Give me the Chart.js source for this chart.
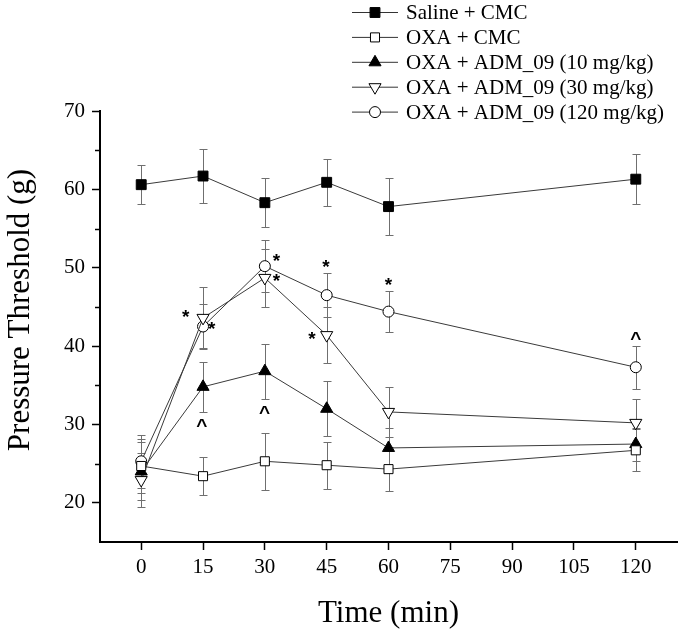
<!DOCTYPE html>
<html><head><meta charset="utf-8">
<script src="https://cdn.jsdelivr.net/npm/chart.js@4.4.1/dist/chart.umd.min.js"></script>
<style>html,body{margin:0;padding:0;background:#fff}canvas{display:block}</style>
</head><body>
<canvas id="c" width="685" height="631"></canvas>
<script>
// ---- data ----
const timePoints = [0, 15, 30, 45, 60, 120];
const seriesLabels = ['Saline + CMC', 'OXA + CMC', 'OXA + ADM_09 (10 mg/kg)', 'OXA + ADM_09 (30 mg/kg)', 'OXA + ADM_09 (120 mg/kg)'];
const salineCmc = [60.6, 61.7, 58.3, 60.9, 57.8, 61.3];
const salineCmcErr = [2.5, 3.4, 3.1, 3.0, 3.6, 3.2];
const oxaCmc = [24.7, 23.4, 25.3, 24.8, 24.3, 26.7];
const oxaCmcErr = [3.5, 2.45, 3.65, 3.0, 2.8, 2.7];
const adm10 = [24.0, 34.8, 36.8, 32.0, 27.0, 27.5];
const adm10Err = [3.7, 3.2, 3.5, 3.5, 2.6, 2.1];
const adm30 = [22.9, 43.6, 48.7, 41.4, 31.6, 30.2];
const adm30Err = [3.4, 3.9, 3.7, 3.6, 3.2, 3.0];
const adm120 = [25.3, 42.5, 50.2, 46.5, 44.4, 37.3];
const adm120Err = [3.4, 2.9, 3.3, 2.8, 2.6, 2.75];
const xTickValues = [0, 15, 30, 45, 60, 75, 90, 105, 120];
const yTickValues = [20, 30, 40, 50, 60, 70];
const yMinorTickValues = [25, 35, 45, 55, 65];
const markSymbols = ['*', '*', '*', '*', '*', '*', '*', '^', '^', '^'];
const markTimes = [10.8, 17.1, 32.8, 32.8, 44.8, 41.4, 60.0, 14.7, 29.9, 120];
const markValues = [44.2, 42.6, 51.25, 48.7, 50.6, 41.4, 48.3, 30.2, 31.9, 41.3];

// ---- styles ----
const seriesValues = [salineCmc, oxaCmc, adm10, adm30, adm120];
const seriesErrors = [salineCmcErr, oxaCmcErr, adm10Err, adm30Err, adm120Err];
const styles = [
  {shape: 'rect', fill: '#000', r: 7, rot: 0},
  {shape: 'rect', fill: '#fff', r: 6.4, rot: 0},
  {shape: 'triangle', fill: '#000', r: 7, rot: 0},
  {shape: 'triangle', fill: '#fff', r: 7, rot: 180},
  {shape: 'circle', fill: '#fff', r: 5.5, rot: 0}
];
const SERIF = '"Liberation Serif", "Times New Roman", serif';

function drawMarker(ctx, st, x, y) {
  ctx.save();
  ctx.fillStyle = st.fill; ctx.strokeStyle = '#000'; ctx.lineWidth = 1;
  ctx.beginPath();
  const r = st.r;
  if (st.shape === 'rect') {
    const s = Math.SQRT1_2 * r;
    ctx.rect(x - s, y - s, 2 * s, 2 * s);
  } else if (st.shape === 'circle') {
    ctx.arc(x, y, r, 0, Math.PI * 2);
  } else {
    let rad = st.rot * Math.PI / 180;
    ctx.moveTo(x + Math.sin(rad) * r, y - Math.cos(rad) * r);
    rad += Math.PI * 2 / 3;
    ctx.lineTo(x + Math.sin(rad) * r, y - Math.cos(rad) * r);
    rad += Math.PI * 2 / 3;
    ctx.lineTo(x + Math.sin(rad) * r, y - Math.cos(rad) * r);
    ctx.closePath();
  }
  ctx.fill(); ctx.stroke();
  ctx.restore();
}

const extras = {
  id: 'extras',
  beforeDatasetsDraw(chart) {
    const {ctx, scales: {x, y}} = chart;
    ctx.save();
    ctx.strokeStyle = '#6f6f6f'; ctx.lineWidth = 1;
    seriesValues.forEach((vals, si) => {
      vals.forEach((v, i) => {
        const e = seriesErrors[si][i];
        const px = Math.round(x.getPixelForValue(timePoints[i])) + 0.5;
        const t = Math.round(y.getPixelForValue(v + e)) + 0.5;
        const b = Math.round(y.getPixelForValue(v - e)) + 0.5;
        ctx.beginPath();
        ctx.moveTo(px, t); ctx.lineTo(px, b);
        ctx.moveTo(px - 4, t); ctx.lineTo(px + 4, t);
        ctx.moveTo(px - 4, b); ctx.lineTo(px + 4, b);
        ctx.stroke();
      });
    });
    ctx.restore();
  },
  afterDraw(chart) {
    const {ctx, scales: {x, y}, chartArea} = chart;
    ctx.save();
    // minor ticks on y
    ctx.strokeStyle = '#000'; ctx.lineWidth = 1.5;
    yMinorTickValues.forEach(v => {
      const py = Math.round(y.getPixelForValue(v)) + 0.5;
      ctx.beginPath(); ctx.moveTo(chartArea.left, py); ctx.lineTo(chartArea.left - 5, py); ctx.stroke();
    });
    // axis titles
    ctx.fillStyle = '#000';
    ctx.font = '31px ' + SERIF;
    ctx.textAlign = 'center'; ctx.textBaseline = 'alphabetic';
    ctx.fillText('Time (min)', (chartArea.left + chartArea.right) / 2, 622);
    ctx.save();
    ctx.translate(29, 310); ctx.rotate(-Math.PI / 2);
    ctx.fillText('Pressure Threshold (g)', 0, 0);
    ctx.restore();
    // significance marks
    ctx.font = 'bold 19px "Liberation Sans", Arial, sans-serif';
    ctx.textAlign = 'center'; ctx.textBaseline = 'alphabetic';
    markSymbols.forEach((s, i) => {
      const px = x.getPixelForValue(markTimes[i]);
      const py = y.getPixelForValue(markValues[i]);
      const m = ctx.measureText(s);
      const off = (m.actualBoundingBoxAscent - m.actualBoundingBoxDescent) / 2;
      ctx.fillText(s, px, py + off);
    });
    // legend
    ctx.font = '21px ' + SERIF;
    ctx.textAlign = 'left'; ctx.textBaseline = 'alphabetic';
    seriesLabels.forEach((lab, i) => {
      const ly = 12.5 + i * 24.9;
      ctx.strokeStyle = '#333'; ctx.lineWidth = 1;
      ctx.beginPath(); ctx.moveTo(352, ly); ctx.lineTo(398, ly); ctx.stroke();
      drawMarker(ctx, styles[i], 375, ly);
      ctx.fillStyle = '#000';
      ctx.fillText(lab, 406, ly + 6.5);
    });
    ctx.restore();
  }
};

const datasets = seriesValues.map((vals, i) => ({
  label: seriesLabels[i],
  data: vals.map((v, j) => ({x: timePoints[j], y: v})),
  borderColor: '#3a3a3a',
  borderWidth: 1,
  tension: 0,
  fill: false,
  pointStyle: styles[i].shape,
  pointRadius: styles[i].r,
  pointRotation: styles[i].rot,
  pointBackgroundColor: styles[i].fill,
  pointBorderColor: '#000',
  pointBorderWidth: 1,
  clip: false
}));

new Chart(document.getElementById('c'), {
  type: 'line',
  data: {datasets},
  plugins: [extras],
  options: {
    responsive: false,
    animation: false,
    events: [],
    layout: {padding: {top: 111, right: 3, left: 0, bottom: 0}},
    plugins: {legend: {display: false}, tooltip: {enabled: false}},
    scales: {
      x: {
        type: 'linear', min: -10, max: 130,
        afterBuildTicks: s => { s.ticks = xTickValues.map(v => ({value: v})); },
        afterFit: s => { s.height = 89; },
        grid: {display: true, drawOnChartArea: false, drawTicks: true, tickLength: 8, tickColor: '#000', tickWidth: 1.5},
        border: {display: true, color: '#000', width: 2},
        ticks: {color: '#000', font: {family: SERIF, size: 21}, padding: 5, maxRotation: 0, autoSkip: false}
      },
      y: {
        type: 'linear', min: 15, max: 70,
        afterBuildTicks: s => { s.ticks = yTickValues.map(v => ({value: v})); },
        afterFit: s => { s.width = 100; },
        grid: {display: true, drawOnChartArea: false, drawTicks: true, tickLength: 8, tickColor: '#000', tickWidth: 1.5},
        border: {display: true, color: '#000', width: 2},
        ticks: {color: '#000', font: {family: SERIF, size: 21}, padding: 7}
      }
    }
  }
});
</script>
</body></html>
